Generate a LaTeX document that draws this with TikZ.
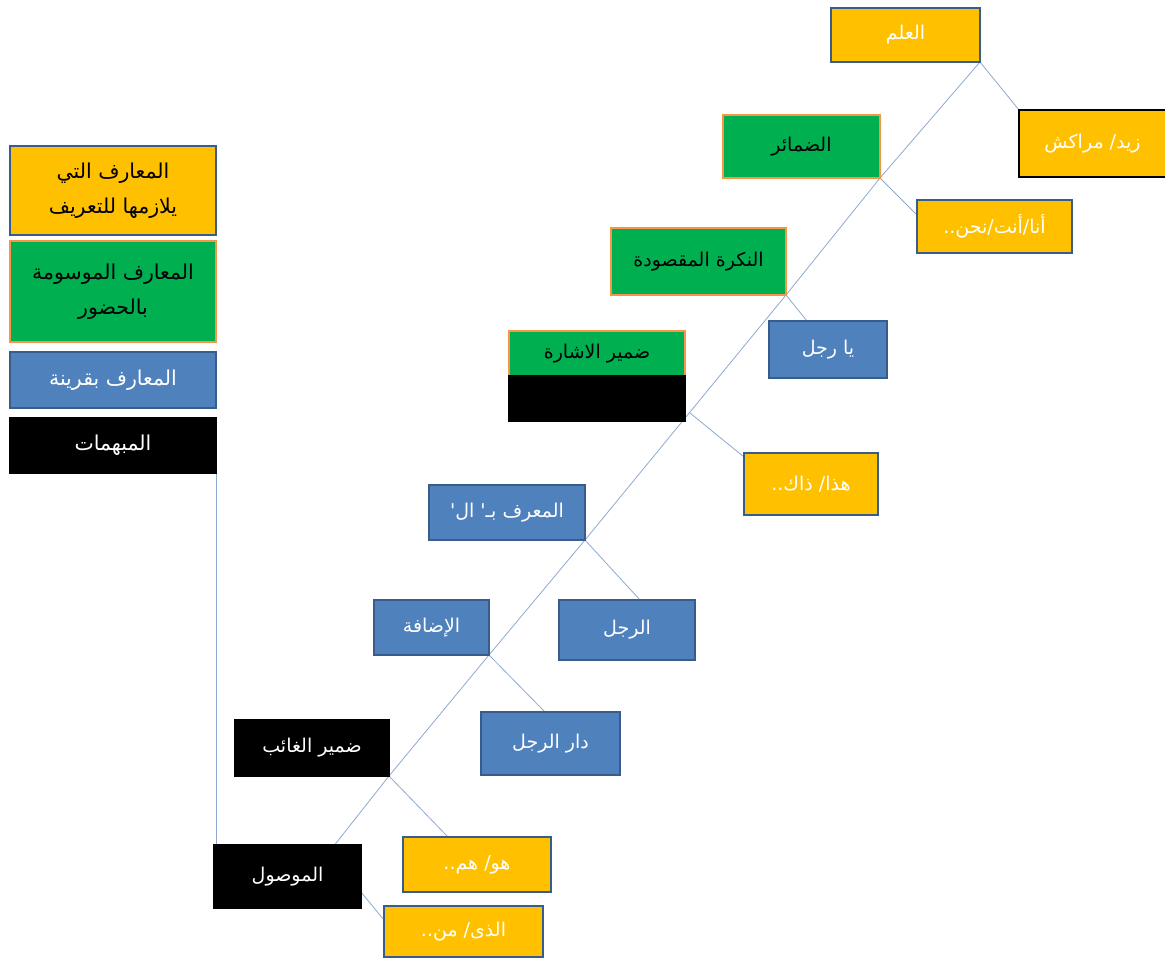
\documentclass[tikz,border=0pt]{standalone}
\usepackage{fontspec}
\newfontfamily\arabicfont[Script=Arabic]{DejaVu Sans}
\TeXXeTstate=1
\usetikzlibrary{calc}
\definecolor{orng}{HTML}{FFC000}
\definecolor{grn}{HTML}{00B050}
\definecolor{blu}{HTML}{4F81BD}
\definecolor{bdr}{HTML}{385D8A}
\definecolor{obdr}{HTML}{F79646}
\definecolor{lnk}{HTML}{8FA8D0}
\newcommand{\artxt}[1]{\beginR #1\endR}
\pgfdeclarelayer{bg}
\pgfsetlayers{bg,main}
\tikzset{
  box/.style={rectangle, inner sep=0pt, outer sep=0pt, line width=1.2pt, align=center,
    font=\arabicfont\fontsize{19}{24}\selectfont},
  ob/.style={box, fill=orng, draw=bdr, text=white},
  gb/.style={box, fill=grn, draw=obdr, text=black},
  bb/.style={box, fill=blu, draw=bdr, text=white},
  kb/.style={box, fill=black, draw=black, text=white},
  lg/.style={font=\arabicfont\fontsize{20.5}{35}\selectfont},
  link/.style={draw=lnk, line width=0.8pt},
}
\begin{document}
\begin{tikzpicture}[x=1pt,y=-1pt]
\useasboundingbox (0,0) rectangle (1165,960);
% legend
\node[ob, lg, text=black, minimum width=206, minimum height=89] (leg1) at (113,190.5)
  {\artxt{المعارف التي}\\\artxt{يلازمها للتعريف}};
\node[gb, lg, minimum width=206, minimum height=101] (leg2) at (113,291.5)
  {\artxt{المعارف الموسومة}\\\artxt{بالحضور}};
\node[bb, lg, minimum width=206, minimum height=56] (leg3) at (113,380) {\artxt{المعارف بقرينة}};
\node[kb, lg, minimum width=206, minimum height=55] (leg4) at (113,445.5) {\artxt{المبهمات}};
% tree boxes
\node[ob, minimum width=149, minimum height=54] (alam) at (905.5,35) {\artxt{العلم}};
\node[ob, draw=black, line width=2pt, minimum width=147, minimum height=67] (zayd) at (1092.5,143.5) {\artxt{زيد/ مراكش}};
\node[gb, minimum width=157, minimum height=63] (damair) at (801.5,146.5) {\artxt{الضمائر}};
\node[ob, minimum width=155, minimum height=53] (ana) at (994.5,226.5) {\artxt{أنا/أنت/نحن..}};
\node[gb, minimum width=175, minimum height=67] (nakira) at (698.5,261.5) {\artxt{النكرة المقصودة}};
\node[bb, minimum width=118, minimum height=57] (yarajul) at (828,349.5) {\artxt{يا رجل}};
\node[gb, minimum width=176, minimum height=45] (ishara) at (597,353.5) {\artxt{ضمير الاشارة}};
\node[kb, minimum width=176, minimum height=45] (isharab) at (597,398.5) {};
\node[ob, minimum width=134, minimum height=62] (hadha) at (811,484) {\artxt{هذا/ ذاك..}};
\node[bb, minimum width=156, minimum height=55] (marifa) at (507,512.5) {\artxt{المعرف بـ' ال'}};
\node[bb, minimum width=136, minimum height=60] (rajul) at (627,630) {\artxt{الرجل}};
\node[bb, minimum width=115, minimum height=55] (idafa) at (431.5,627.5) {\artxt{الإضافة}};
\node[bb, minimum width=139, minimum height=63] (dar) at (550.5,743.5) {\artxt{دار الرجل}};
\node[kb, minimum width=154, minimum height=56] (ghaib) at (312,748) {\artxt{ضمير الغائب}};
\node[ob, minimum width=148, minimum height=55] (huwa) at (477,864.5) {\artxt{هو/ هم..}};
\node[kb, minimum width=147, minimum height=63] (mawsul) at (287.5,876.5) {\artxt{الموصول}};
\node[ob, minimum width=159, minimum height=51] (aladhi) at (463.5,931.5) {\artxt{الذى/ من..}};
% connectors
\coordinate (j4) at ($(nakira.south east)!0.48!(marifa.south east)$);
\coordinate (mend) at ($(mawsul.north west)!0.82!(mawsul.north east)$);
\begin{pgfonlayer}{bg}
\draw[link] (alam.south east) -- (damair.south east) -- (nakira.south east) -- (j4)
  -- (marifa.south east) -- (idafa.south east) -- (ghaib.south east) -- (mend);
\draw[link] (alam.south east) -- (zayd.north west);
\draw[link] (damair.south east) -- ([yshift=-15pt]ana.north west);
\draw[link] (nakira.south east) -- ([xshift=38pt]yarajul.north west);
\draw[link] (j4) -- ([yshift=-4pt]hadha.north west);
\draw[link] (marifa.south east) -- ([xshift=81pt]rajul.north west);
\draw[link] (idafa.south east) -- ([xshift=64pt]dar.north west);
\draw[link] (ghaib.south east) -- ([xshift=45pt]huwa.north west);
\draw[link] ([yshift=-47pt]mawsul.north east) -- ([yshift=-14pt]aladhi.north west);
\draw[link] (leg4.south east) -- (leg4.south east |- mawsul.north);
\end{pgfonlayer}
\end{tikzpicture}
\end{document}
